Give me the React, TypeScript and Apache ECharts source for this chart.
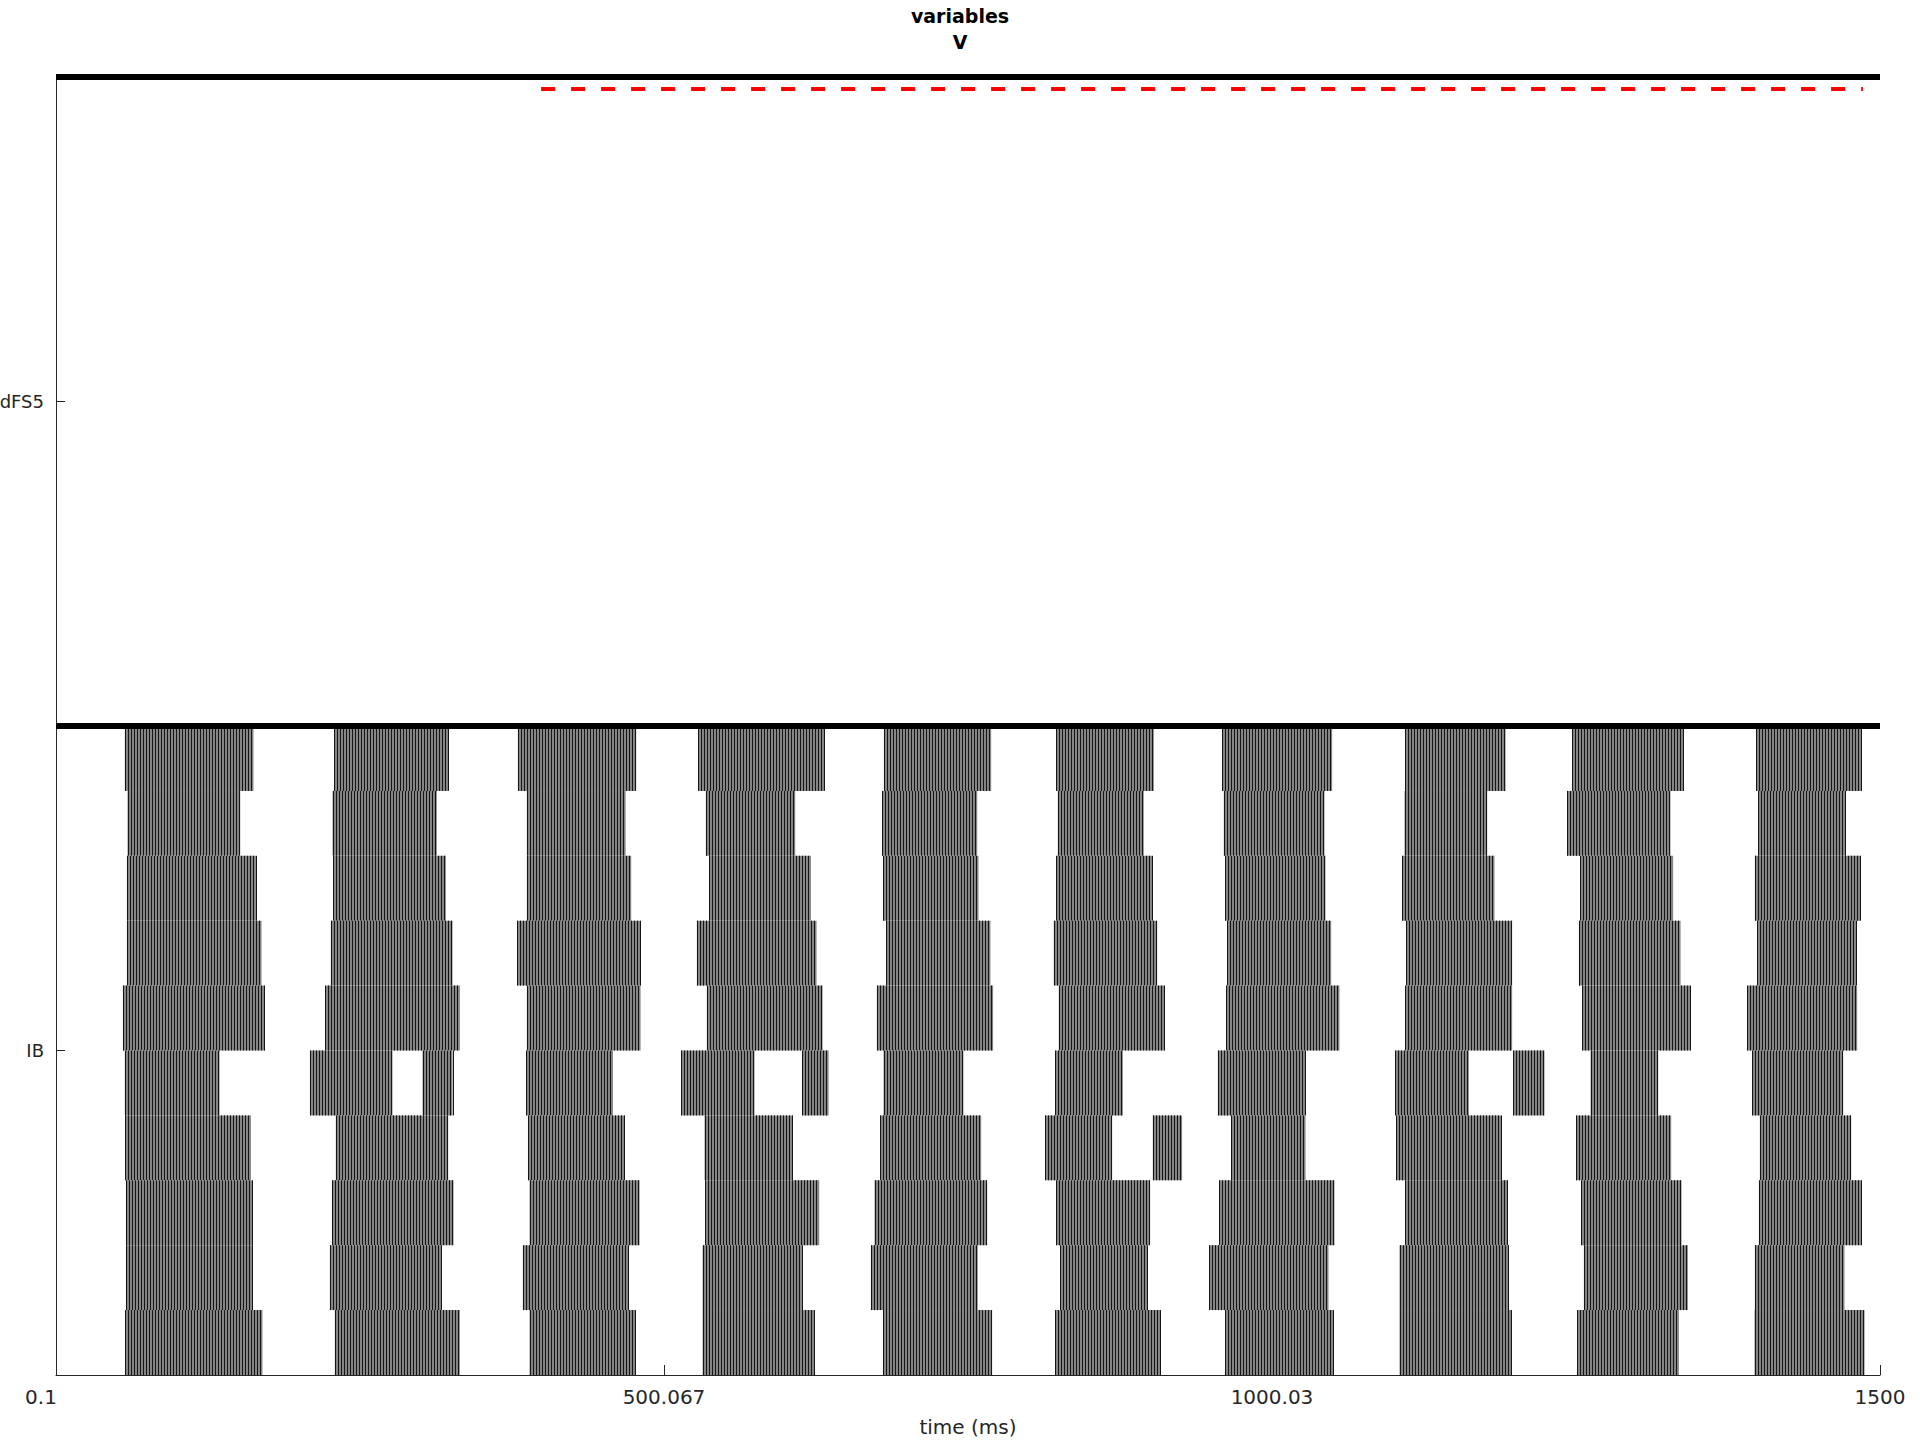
import React, { useEffect, useRef } from "react";
import * as echarts from "echarts";

// ---- data ----
const xTickValues = [0.1, 500.067, 1000.03, 1500];
const xTickLabels = ["0.1", "500.067", "1000.03", "1500"];
const yCategories = ["IB", "dFS5"];
const yCategoryCenters = [5, 15];

// IB cells, top row first; each entry is a burst of spikes [start ms, end ms]
const ibRow1 = [[56.7, 162.5], [228.9, 322.9], [379.9, 477.2], [528.0, 631.8], [680.9, 769.1], [822.5, 902.9], [959.0, 1049.5], [1109.5, 1192.1], [1246.9, 1338.2], [1398.2, 1484.8]];
const ibRow2 = [[58.9, 151.6], [227.5, 313.3], [387.3, 468.5], [534.5, 608.0], [679.3, 757.6], [823.9, 894.6], [960.4, 1043.2], [1109.0, 1177.0], [1242.8, 1327.7], [1399.8, 1471.6]];
const ibRow3 = [[58.4, 164.5], [228.1, 320.7], [387.3, 473.1], [537.3, 620.9], [680.1, 758.7], [822.5, 901.5], [961.5, 1044.0], [1107.0, 1183.0], [1253.7, 1329.9], [1397.1, 1484.0]];
const ibRow4 = [[58.4, 169.1], [226.1, 326.2], [379.4, 480.8], [527.1, 625.5], [682.8, 768.5], [820.6, 905.6], [963.2, 1048.7], [1110.3, 1197.5], [1252.4, 1336.0], [1399.0, 1480.7]];
const ibRow5 = [[55.1, 171.9], [221.5, 332.2], [387.3, 480.8], [535.3, 630.5], [675.1, 770.7], [824.7, 911.6], [962.3, 1055.5], [1109.8, 1197.5], [1255.1, 1344.2], [1390.8, 1481.2]];
const ibRow6 = [[56.7, 134.6], [208.9, 276.8], [301.5, 326.2], [386.8, 458.1], [514.2, 574.5], [613.5, 635.4], [680.6, 746.3], [821.7, 877.4], [955.5, 1027.6], [1101.3, 1161.9], [1198.4, 1224.1], [1262.0, 1317.6], [1394.9, 1469.7]];
const ibRow7 = [[57.0, 160.4], [230.2, 322.6], [388.2, 467.6], [533.4, 606.1], [677.9, 760.9], [813.5, 868.6], [902.0, 926.1], [966.4, 1027.6], [1102.1, 1188.8], [1250.2, 1328.3], [1401.2, 1476.3]];
const ibRow8 = [[57.6, 161.7], [227.0, 327.0], [389.5, 480.0], [534.0, 627.7], [673.2, 765.8], [822.5, 899.8], [956.8, 1051.4], [1109.8, 1194.0], [1254.3, 1336.8], [1400.4, 1484.8]];
const ibRow9 = [[57.6, 161.7], [225.3, 317.4], [384.0, 470.9], [531.8, 613.5], [670.2, 758.1], [825.8, 897.9], [948.6, 1046.5], [1104.9, 1194.8], [1256.5, 1342.0], [1397.1, 1470.8]];
const ibRow10 = [[57.0, 169.9], [229.4, 332.2], [389.5, 476.4], [531.8, 623.6], [680.1, 769.9], [821.7, 908.3], [961.5, 1050.6], [1104.9, 1197.0], [1251.0, 1334.6], [1396.8, 1487.3]];
const ibRows = [ibRow1, ibRow2, ibRow3, ibRow4, ibRow5, ibRow6, ibRow7, ibRow8, ibRow9, ibRow10];

// dFS5 red dashed trace
const dfsLine = [[399, 19.815], [1486, 19.815]];
// population separators
const separatorTop = [[0.1, 20], [1500, 20]];
const separatorMid = [[0.1, 10], [1500, 10]];

const FONT = "DejaVu Sans";
const AXIS_COLOR = "#262626";

export default function App() {
  const ref = useRef<HTMLDivElement>(null);

  useEffect(() => {
    document.body.style.margin = "0";
    if (!ref.current) return;
    const chart = echarts.init(ref.current, undefined, { renderer: "svg" });

    const burstData: number[][] = [];
    ibRows.forEach((row, i) => {
      const yBase = ibRows.length - 1 - i;
      row.forEach(([s, e]) => burstData.push([yBase, s, e]));
    });

    const renderBurst = (params: any, api: any) => {
      const row = api.value(0);
      const s = api.value(1);
      const e = api.value(2);
      const p0 = api.coord([s, row + 1]);
      const p1 = api.coord([e, row]);
      const x0 = p0[0];
      const x1 = p1[0];
      const y0 = p0[1];
      const y1 = p1[1];
      const children: any[] = [
        {
          type: "rect",
          shape: { x: x0, y: y0, width: x1 - x0, height: y1 - y0 },
          style: { fill: "#858585" },
        },
      ];
      const step = 3;
      for (let x = x0; x <= x1; x += step) {
        const xx = Math.round(x) + 0.5;
        children.push({
          type: "line",
          shape: { x1: xx, y1: y0, x2: xx, y2: y1 },
          style: { stroke: "#151515", lineWidth: 1 },
        });
      }
      return { type: "group", children };
    };

    chart.setOption({
      animation: false,
      backgroundColor: "#fff",
      textStyle: { fontFamily: FONT },
      title: {
        text: "variables\nV",
        left: "center",
        top: -2,
        textStyle: {
          fontFamily: FONT,
          fontSize: 19,
          fontWeight: "bold",
          color: "#000",
          lineHeight: 26,
        },
      },
      grid: {
        left: 56,
        right: 40,
        top: 77,
        bottom: 65,
        containLabel: false,
        outerBoundsMode: "none",
      },
      xAxis: {
        type: "value",
        min: 0.1,
        max: 1500,
        name: "time (ms)",
        nameLocation: "middle",
        nameGap: 42,
        nameTextStyle: { fontFamily: FONT, fontSize: 20, color: AXIS_COLOR },
        axisLine: { show: true, onZero: false, lineStyle: { color: AXIS_COLOR, width: 1 } },
        axisTick: {
          show: true,
          inside: true,
          length: 10,
          customValues: xTickValues,
          lineStyle: { color: AXIS_COLOR },
        },
        axisLabel: {
          show: true,
          customValues: xTickValues,
          margin: 12,
          fontFamily: FONT,
          fontSize: 20,
          color: AXIS_COLOR,
          hideOverlap: false,
          showMinLabel: true,
          showMaxLabel: true,
          formatter: (v: number) => {
            const idx = xTickValues.findIndex((t) => Math.abs(t - v) < 1e-6);
            if (idx < 0) return "";
            return idx === 0 ? "{first|" + xTickLabels[idx] + "}" : xTickLabels[idx];
          },
          rich: {
            first: {
              fontFamily: FONT,
              fontSize: 20,
              color: AXIS_COLOR,
              padding: [0, 30, 0, 0],
            },
          },
        },
        splitLine: { show: false },
      },
      yAxis: {
        type: "value",
        min: 0,
        max: 20,
        axisLine: { show: true, lineStyle: { color: AXIS_COLOR, width: 1 } },
        axisTick: {
          show: true,
          inside: true,
          length: 9,
          customValues: yCategoryCenters,
          lineStyle: { color: AXIS_COLOR },
        },
        axisLabel: {
          show: true,
          customValues: yCategoryCenters,
          margin: 12,
          fontFamily: FONT,
          fontSize: 18,
          color: AXIS_COLOR,
          formatter: (v: number) => {
            const idx = yCategoryCenters.indexOf(v);
            return idx >= 0 ? yCategories[idx] : "";
          },
        },
        splitLine: { show: false },
      },
      series: [
        {
          type: "custom",
          name: "IB spikes",
          renderItem: renderBurst,
          data: burstData,
          encode: { x: [1, 2], y: 0 },
          clip: true,
          silent: true,
          z: 2,
        },
        {
          type: "line",
          name: "dFS5",
          data: dfsLine,
          symbol: "none",
          lineStyle: { color: "#ff0000", width: 4, type: [14, 16] },
          silent: true,
          z: 3,
        },
        {
          type: "line",
          data: separatorTop,
          symbol: "none",
          lineStyle: { color: "#000", width: 6 },
          silent: true,
          z: 4,
        },
        {
          type: "line",
          data: separatorMid,
          symbol: "none",
          lineStyle: { color: "#000", width: 6 },
          silent: true,
          z: 4,
        },
      ],
    });

    return () => chart.dispose();
  }, []);

  return <div ref={ref} style={{ width: 1920, height: 1440 }} />;
}
